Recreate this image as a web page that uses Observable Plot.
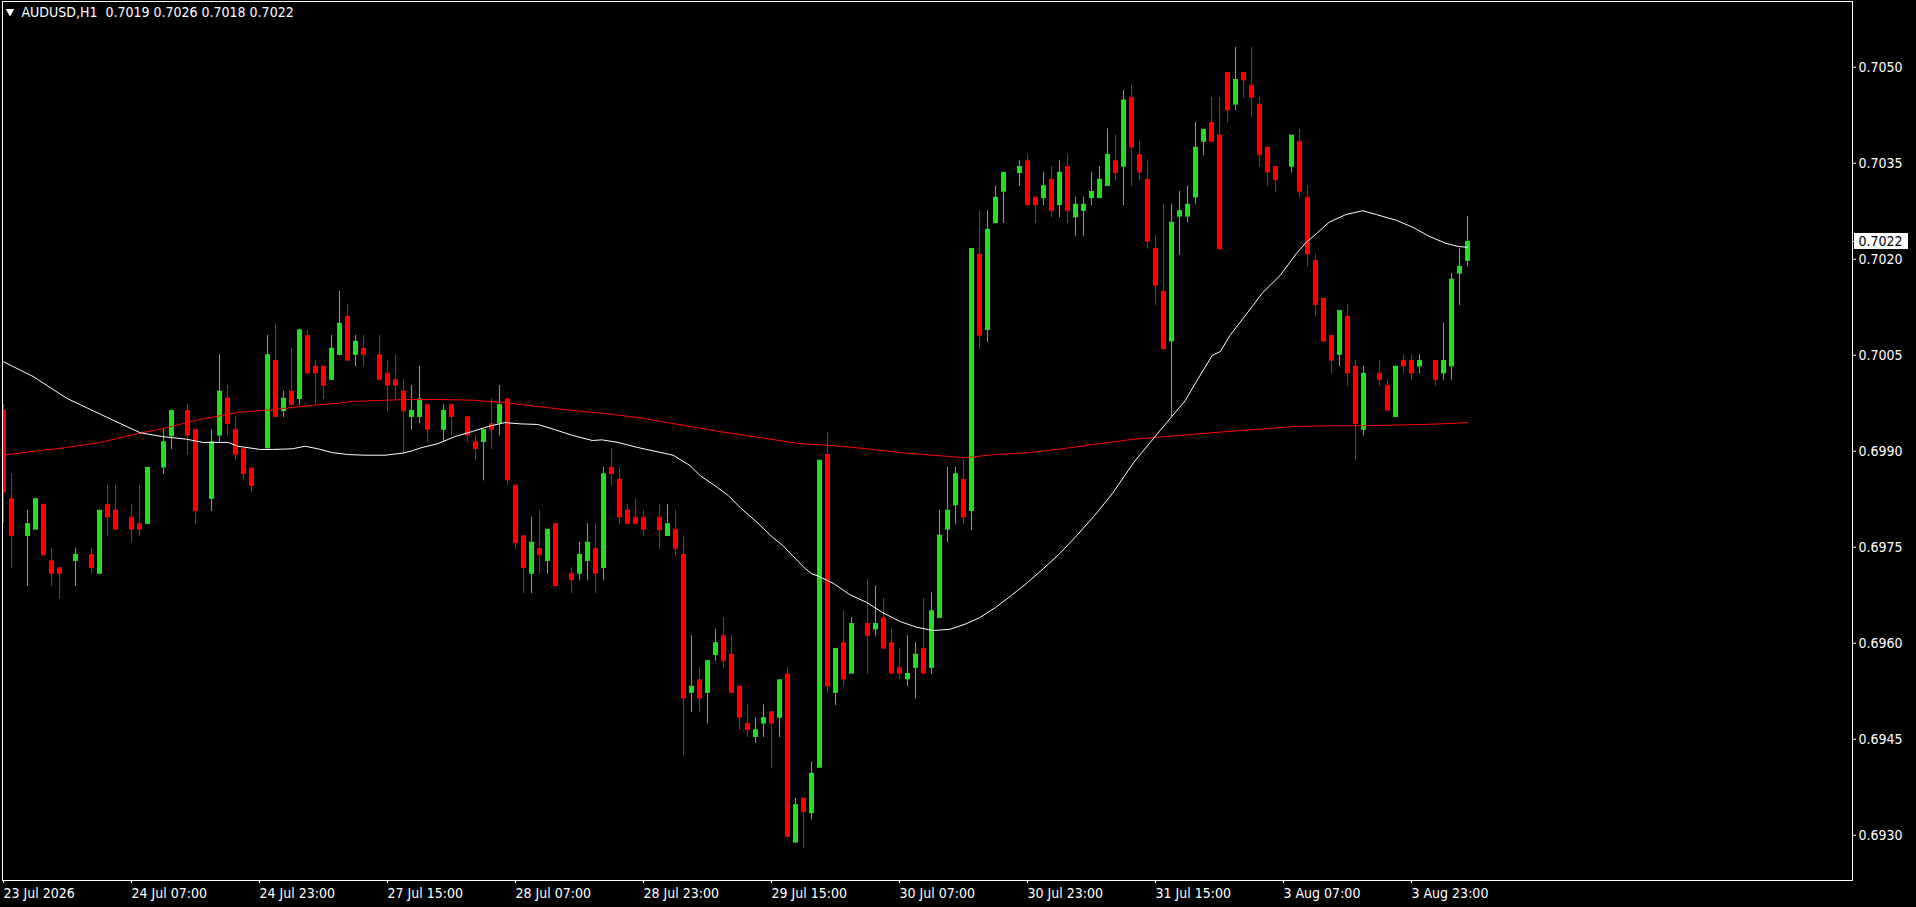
<!DOCTYPE html>
<html><head><meta charset="utf-8">
<script src="https://cdn.jsdelivr.net/npm/d3@7"></script>
<script src="https://cdn.jsdelivr.net/npm/@observablehq/plot@0.6"></script>
<style>
html,body{margin:0;padding:0;background:#000;overflow:hidden;}
#chart svg{display:block;}
</style></head><body><div id="chart"></div>
<script>
const symbolName = "AUDUSD,H1";

// hour index of each visible H1 candle (0 = 23 Jul 2026 15:00)
const hourIndex = [0,1,3,4,5,6,7,9,11,12,13,14,16,17,18,20,21,23,24,26,27,28,29,30,31,33,34,35,36,37,38,39,40,41,42,43,44,45,47,48,49,50,51,52,53,55,56,58,59,60,61,62,63,64,65,66,67,68,69,71,72,73,74,75,76,77,78,79,80,82,83,84,85,86,87,88,89,90,91,92,93,94,95,96,97,98,99,100,101,102,103,104,105,106,108,109,110,111,112,113,114,115,116,117,118,119,120,121,122,123,124,125,127,128,129,130,131,132,133,134,135,136,137,138,139,140,141,142,143,144,145,146,147,148,149,150,151,152,153,154,155,156,157,158,159,161,162,163,164,165,166,167,168,169,170,172,173,174,175,176,177,179,180,181,182,183];

const open = [0.69960,0.69822,0.69763,0.69773,0.69813,0.69725,0.69714,0.69724,0.69735,0.69704,0.69813,0.69804,0.69793,0.69783,0.69782,0.69870,0.69919,0.69960,0.69930,0.69821,0.69920,0.69979,0.69930,0.69900,0.69870,0.69900,0.70038,0.69958,0.69990,0.69977,0.70077,0.70029,0.70029,0.70007,0.70046,0.70107,0.70046,0.70057,0.70047,0.70018,0.70008,0.69990,0.69949,0.69949,0.69969,0.69929,0.69969,0.69950,0.69911,0.69910,0.69939,0.69939,0.69978,0.69843,0.69764,0.69704,0.69744,0.69724,0.69783,0.69705,0.69704,0.69724,0.69744,0.69713,0.69871,0.69852,0.69804,0.69793,0.69793,0.69793,0.69763,0.69774,0.69735,0.69518,0.69539,0.69518,0.69577,0.69608,0.69579,0.69529,0.69471,0.69449,0.69470,0.69489,0.69479,0.69548,0.69284,0.69354,0.69330,0.69401,0.69891,0.69518,0.69597,0.69548,0.69627,0.69617,0.69636,0.69597,0.69558,0.69539,0.69557,0.69588,0.69557,0.69635,0.69773,0.69811,0.69852,0.69802,0.70204,0.70085,0.70252,0.70301,0.70330,0.70350,0.70293,0.70291,0.70321,0.70280,0.70341,0.70261,0.70271,0.70291,0.70291,0.70310,0.70350,0.70340,0.70449,0.70360,0.70321,0.70213,0.70146,0.70067,0.70262,0.70262,0.70292,0.70379,0.70410,0.70390,0.70488,0.70437,0.70488,0.70468,0.70438,0.70371,0.70341,0.70340,0.70380,0.70293,0.70194,0.70135,0.70077,0.70046,0.70107,0.70029,0.69929,0.70018,0.69999,0.69949,0.70038,0.70038,0.70028,0.70038,0.70017,0.70028,0.70173,0.70193];

const high = [0.69969,0.69861,0.69804,0.69822,0.69813,0.69744,0.69714,0.69744,0.69744,0.69804,0.69843,0.69843,0.69813,0.69843,0.69871,0.69930,0.69960,0.69969,0.69930,0.69930,0.70047,0.69999,0.69950,0.69900,0.69870,0.70077,0.70095,0.69990,0.70057,0.70086,0.70086,0.70038,0.70029,0.70077,0.70146,0.70125,0.70077,0.70077,0.70077,0.70038,0.70047,0.70008,0.69999,0.70029,0.69969,0.69969,0.69969,0.69950,0.69921,0.69930,0.69978,0.69999,0.69978,0.69843,0.69764,0.69793,0.69804,0.69774,0.69783,0.69714,0.69754,0.69783,0.69783,0.69871,0.69900,0.69871,0.69813,0.69822,0.69804,0.69813,0.69813,0.69804,0.69764,0.69608,0.69558,0.69569,0.69618,0.69636,0.69608,0.69529,0.69500,0.69480,0.69500,0.69489,0.69539,0.69558,0.69354,0.69354,0.69411,0.69882,0.69925,0.69588,0.69647,0.69636,0.69696,0.69686,0.69666,0.69618,0.69588,0.69608,0.69597,0.69666,0.69675,0.69804,0.69871,0.69871,0.69882,0.70213,0.70272,0.70272,0.70311,0.70332,0.70350,0.70360,0.70293,0.70332,0.70341,0.70350,0.70360,0.70293,0.70293,0.70332,0.70341,0.70400,0.70390,0.70460,0.70468,0.70380,0.70350,0.70233,0.70282,0.70282,0.70302,0.70311,0.70410,0.70399,0.70449,0.70449,0.70488,0.70527,0.70488,0.70527,0.70449,0.70371,0.70341,0.70390,0.70399,0.70311,0.70204,0.70135,0.70077,0.70116,0.70125,0.70038,0.70029,0.70038,0.70008,0.70029,0.70047,0.70047,0.70047,0.70038,0.70096,0.70174,0.70213,0.70263];

const low = [0.69783,0.69713,0.69685,0.69773,0.69733,0.69685,0.69665,0.69685,0.69704,0.69704,0.69763,0.69773,0.69753,0.69763,0.69782,0.69860,0.69899,0.69890,0.69782,0.69802,0.69909,0.69920,0.69881,0.69851,0.69831,0.69900,0.69949,0.69949,0.69968,0.69968,0.70017,0.69968,0.69977,0.70007,0.70046,0.70037,0.70028,0.70028,0.70007,0.69958,0.69977,0.69891,0.69929,0.69939,0.69910,0.69910,0.69920,0.69910,0.69881,0.69850,0.69899,0.69920,0.69842,0.69743,0.69674,0.69674,0.69704,0.69704,0.69685,0.69674,0.69694,0.69694,0.69674,0.69694,0.69842,0.69782,0.69782,0.69782,0.69763,0.69743,0.69763,0.69733,0.69421,0.69488,0.69488,0.69470,0.69568,0.69557,0.69518,0.69460,0.69449,0.69440,0.69449,0.69400,0.69449,0.69293,0.69284,0.69275,0.69320,0.69401,0.69518,0.69499,0.69528,0.69548,0.69548,0.69607,0.69587,0.69548,0.69539,0.69528,0.69509,0.69548,0.69548,0.69635,0.69753,0.69782,0.69782,0.69772,0.70055,0.70066,0.70252,0.70252,0.70310,0.70280,0.70252,0.70280,0.70261,0.70261,0.70252,0.70232,0.70232,0.70280,0.70291,0.70310,0.70319,0.70280,0.70310,0.70319,0.70212,0.70124,0.70055,0.69950,0.70202,0.70253,0.70282,0.70358,0.70379,0.70211,0.70409,0.70428,0.70448,0.70418,0.70340,0.70310,0.70301,0.70331,0.70292,0.70184,0.70106,0.70067,0.70017,0.70028,0.69998,0.69881,0.69920,0.69998,0.69959,0.69949,0.70017,0.70007,0.70017,0.69998,0.70007,0.70007,0.70124,0.70184];

const close = [0.69831,0.69763,0.69783,0.69822,0.69733,0.69704,0.69704,0.69735,0.69713,0.69804,0.69792,0.69773,0.69773,0.69773,0.69871,0.69911,0.69960,0.69920,0.69802,0.69911,0.69990,0.69938,0.69890,0.69860,0.69841,0.70047,0.69949,0.69979,0.69968,0.70086,0.70017,0.70017,0.69998,0.70057,0.70096,0.70037,0.70068,0.70046,0.70007,0.69998,0.69998,0.69958,0.69960,0.69978,0.69929,0.69960,0.69949,0.69920,0.69899,0.69930,0.69929,0.69969,0.69850,0.69752,0.69713,0.69754,0.69733,0.69774,0.69685,0.69694,0.69735,0.69754,0.69704,0.69861,0.69860,0.69792,0.69782,0.69782,0.69773,0.69772,0.69783,0.69743,0.69509,0.69529,0.69509,0.69569,0.69597,0.69568,0.69518,0.69479,0.69460,0.69461,0.69480,0.69470,0.69539,0.69293,0.69344,0.69332,0.69393,0.69882,0.69528,0.69588,0.69539,0.69627,0.69607,0.69627,0.69587,0.69548,0.69548,0.69549,0.69579,0.69548,0.69647,0.69765,0.69804,0.69861,0.69792,0.70213,0.70076,0.70243,0.70293,0.70332,0.70341,0.70280,0.70280,0.70311,0.70271,0.70332,0.70271,0.70282,0.70282,0.70302,0.70321,0.70360,0.70330,0.70445,0.70370,0.70331,0.70223,0.70154,0.70055,0.70254,0.70272,0.70282,0.70371,0.70399,0.70379,0.70211,0.70428,0.70477,0.70475,0.70448,0.70358,0.70331,0.70319,0.70390,0.70301,0.70203,0.70124,0.70067,0.70037,0.70116,0.70017,0.69938,0.70018,0.70007,0.69959,0.70029,0.70028,0.70017,0.70038,0.70007,0.70038,0.70165,0.70185,0.70224];

// white moving average
const maWhiteHour = [0,3.7,7.9,12.1,17.1,19.9,22.9,24.9,28.1,29.3,32.1,33.6,36.1,37.7,39.3,41.1,43.1,45.2,47.7,49.8,51.1,52.3,54.3,56.4,58.6,60.6,62.7,64.6,66.8,68.9,71.1,73.6,74.8,76.8,79.3,83.7,85.8,87.1,89.2,90.6,92.1,94.2,96.2,97.4,100.2,101.1,101.7,103.7,105.8,107.9,109.9,112.1,114.2,116.2,118.3,120.2,122,124,126,128,130,132,134.2,136.4,138.6,141.3,144.6,147.7,149.2,151.1,152.1,153.3,155.4,157.4,159.6,161.6,162.8,164.1,165.7,167.8,169.9,171.6,174.1,176.2,178.2,180.3,181.9,183];
const maWhite = [0.70036,0.70013,0.69979,0.69954,0.69925,0.69919,0.69915,0.69910,0.69910,0.69904,0.69899,0.69899,0.69900,0.69904,0.69900,0.69894,0.69891,0.69890,0.69890,0.69893,0.69897,0.69902,0.69908,0.69919,0.69927,0.69935,0.69941,0.69939,0.69938,0.69930,0.69921,0.69913,0.69914,0.69910,0.69902,0.69890,0.69874,0.69858,0.69840,0.69827,0.69808,0.69785,0.69761,0.69749,0.69713,0.69704,0.69702,0.69690,0.69672,0.69660,0.69644,0.69630,0.69621,0.69616,0.69618,0.69626,0.69636,0.69652,0.69671,0.69691,0.69713,0.69736,0.69765,0.69796,0.69830,0.69879,0.69929,0.69975,0.70007,0.70046,0.70052,0.70077,0.70111,0.70144,0.70171,0.70205,0.70222,0.70236,0.70254,0.70266,0.70272,0.70266,0.70257,0.70246,0.70232,0.70221,0.70216,0.70215];

// red moving average
const maRedHour = [0,3.7,7.9,12.1,16.2,20.4,24.6,26.4,29.3,33.6,38.6,41.8,43.6,50.2,54.3,58.6,62.7,66.8,71.1,75.2,79.3,89,99.6,103.7,107.9,112.1,116.2,120.2,123.9,128.2,132.3,136.4,141.3,151,161.6,166.6,169.9,177.4,181.6,183];
const maRed = [0.69890,0.69896,0.69902,0.69910,0.69922,0.69933,0.69946,0.69950,0.69957,0.69961,0.69968,0.69971,0.69974,0.69977,0.69977,0.69976,0.69972,0.69966,0.69960,0.69955,0.69949,0.69928,0.69908,0.69905,0.69900,0.69894,0.69890,0.69886,0.69891,0.69894,0.69900,0.69907,0.69915,0.69925,0.69935,0.69936,0.69936,0.69938,0.69940,0.69941];

const timeTickHours = [0,16,32,48,64,80,96,112,128,144,160,176];
const timeTickLabels = ["23 Jul 2026","24 Jul 07:00","24 Jul 23:00","27 Jul 15:00","28 Jul 07:00","28 Jul 23:00","29 Jul 15:00","30 Jul 07:00","30 Jul 23:00","31 Jul 15:00","3 Aug 07:00","3 Aug 23:00"];
const priceTicks = [0.7050,0.7035,0.7020,0.7005,0.6990,0.6975,0.6960,0.6945,0.6930];

const BULL = "#27dc27", BEAR = "#ff0000";
const FONT = "'DejaVu Sans Condensed', 'Liberation Sans', sans-serif";

const candles = hourIndex.map((h, i) => ({h, o: open[i], hi: high[i], lo: low[i], c: close[i], col: close[i] >= open[i] ? BULL : BEAR}));
const whiteLine = maWhiteHour.map((h, i) => ({h, v: maWhite[i]}));
const redLine = maRedHour.map((h, i) => ({h, v: maRed[i]}));
const last = candles[candles.length - 1];
const title = `${symbolName}  ${last.o.toFixed(4)} ${last.hi.toFixed(4)} ${last.lo.toFixed(4)} ${last.c.toFixed(4)}`;

const W = 1916, H = 907, mL = 2, mR = 64, mT = 1, mB = 27;

const plot = Plot.plot({
  width: W, height: H,
  marginLeft: mL, marginRight: mR, marginTop: mT, marginBottom: mB,
  style: {background: "#000", color: "#fff", fontFamily: FONT, fontSize: "14px"},
  x: {type: "linear", domain: [-0.125, 231.125], label: null},
  y: {type: "linear", domain: [0.692255, 0.705989], label: null},
  marks: [
    Plot.ruleX(candles, {x: "h", y1: "lo", y2: "hi", stroke: "col", strokeWidth: 1, clip: true}),
    Plot.ruleX(candles, {x: "h", y1: "o", y2: "c", stroke: "col", strokeWidth: 5, clip: true}),
    Plot.line(redLine, {x: "h", y: "v", stroke: "#ff0000", strokeWidth: 1, clip: true}),
    Plot.line(whiteLine, {x: "h", y: "v", stroke: "#ffffff", strokeWidth: 1, clip: true}),
    Plot.frame({stroke: "#fff"}),
    Plot.axisY({anchor: "right", ticks: priceTicks, tickFormat: d => d.toFixed(4), tickSize: 3, tickPadding: 3, dy: 2.4, fontSize: 14}),
    Plot.axisX({anchor: "bottom", ticks: timeTickHours, tickFormat: d => timeTickLabels[timeTickHours.indexOf(d)], tickSize: 3, tickPadding: 5, textAnchor: "start", fontSize: 14}),
    Plot.text([title], {frameAnchor: "top-left", dx: 19, dy: 6, textAnchor: "start", lineAnchor: "top", fill: "#fff", fontSize: 14}),
    Plot.dot([0], {frameAnchor: "top-left", dx: 7.5, dy: 10, symbol: "triangle", r: 3.2, fill: "#fff", stroke: "none", rotate: 180})
  ]
});

// current price tag on the right axis
const svg = d3.select(plot);
const yTag = plot.scale("y").apply(last.c);
const xR = W - mR;
const tag = svg.append("g").attr("text-anchor", "start");
tag.append("line").attr("x1", xR).attr("x2", xR + 3).attr("y1", Math.round(yTag) + 0.5).attr("y2", Math.round(yTag) + 0.5).attr("stroke", "#fff");
tag.append("rect").attr("x", xR + 2).attr("y", Math.round(yTag) - 8).attr("width", 54).attr("height", 16).attr("fill", "#fff");
tag.append("text").attr("x", xR + 6.5).attr("y", yTag).attr("dy", "0.38em").attr("fill", "#000")
  .attr("text-anchor", "start").attr("font-family", FONT).attr("font-size", 14).text(last.c.toFixed(4));

document.getElementById("chart").appendChild(plot);
</script>
</body></html>
